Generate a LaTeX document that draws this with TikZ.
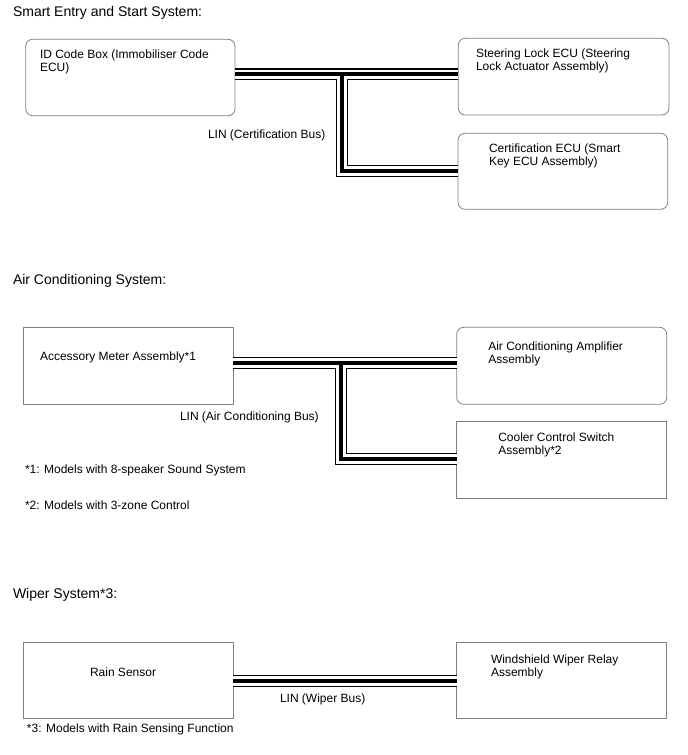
\documentclass[tikz,border=0pt]{standalone}
\usepackage{fontspec}
\setmainfont{Liberation Sans}
\begin{document}
\begin{tikzpicture}[x=1pt,y=-1pt,
  every node/.style={inner sep=0pt,outer sep=0pt},
  boxsq/.style={draw=black!50,line width=0.8pt,fill=white,anchor=north west},
  boxrd/.style={boxsq,rounded corners=7pt},
  lbl/.style={font=\fontsize{12}{13.3}\selectfont,align=left},
  ttl/.style={font=\fontsize{14}{16}\selectfont,anchor=west},
  busout/.style={line width=12pt,draw=black,line join=miter},
  busmid/.style={line width=9.6pt,draw=white,line join=miter},
  busin/.style={line width=4pt,draw=black,line join=miter}]
\useasboundingbox (0,0) rectangle (688,755);

% ---------- Smart Entry and Start System ----------
\node[ttl] (t1) at (13,13.3) {Smart Entry and Start System:};
\node[boxrd,minimum width=209.3pt,minimum height=76.4pt] (id) at (25.7,39.3) {};
\node[boxrd,minimum width=210.7pt,minimum height=76.7pt] (steer) at (458.3,38.3) {};
\node[boxrd,minimum width=209.7pt,minimum height=76pt] (cert) at (458,133.3) {};
\node[lbl,anchor=north west] (idt) at (40,49.5) {ID Code Box (Immobiliser Code\\ECU)};
\node[lbl,anchor=north west] (steert) at (476,49) {Steering Lock ECU (Steering\\Lock Actuator Assembly)};
\node[lbl,anchor=north west] (certt) at (489,144) {Certification ECU (Smart\\Key ECU Assembly)};
\node[lbl,anchor=west] (lin1) at (208,135.7) {LIN (Certification Bus)};
\coordinate (j1) at (342,74.3);
\foreach \s in {busout,busmid,busin}{
  \draw[\s] (id.east |- j1) -- (steer.west |- j1);
  \draw[\s] (j1) -- (j1 |- 0,170.7) -- (cert.west |- 0,170.7);
}

% ---------- Air Conditioning System ----------
\node[ttl] (t2) at (13,281) {Air Conditioning System:};
\node[boxsq,minimum width=210pt,minimum height=76.3pt] (acc) at (23,327.7) {};
\node[boxrd,minimum width=210pt,minimum height=77pt] (amp) at (456.7,327.3) {};
\node[boxsq,minimum width=210pt,minimum height=76.6pt] (cool) at (456.7,421.7) {};
\node[lbl,anchor=west] (acct) at (40,357.7) {Accessory Meter Assembly*1};
\node[lbl,anchor=north west] (ampt) at (488.3,341.4) {Air Conditioning Amplifier\\Assembly};
\node[lbl,anchor=north west] (coolt) at (498.3,432.4) {Cooler Control Switch\\Assembly*2};
\node[lbl,anchor=west] (lin2) at (180,417) {LIN (Air Conditioning Bus)};
\node[lbl,anchor=west] (n1) at (25,470) {*1: Models with 8-speaker Sound System};
\node[lbl,anchor=west] (n2) at (25,505) {*2: Models with 3-zone Control};
\coordinate (j2) at (341,363);
\foreach \s in {busout,busmid,busin}{
  \draw[\s] (acc.east |- j2) -- (amp.west |- j2);
  \draw[\s] (j2) -- (j2 |- 0,458.7) -- (cool.west |- 0,458.7);
}

% ---------- Wiper System ----------
\node[ttl] (t3) at (13,595) {Wiper System*3:};
\node[boxsq,minimum width=210pt,minimum height=76pt] (rain) at (23,642) {};
\node[boxsq,minimum width=210pt,minimum height=76pt] (wind) at (456.7,642) {};
\node[lbl,anchor=west] (raint) at (90,672.7) {Rain Sensor};
\node[lbl,anchor=north west] (windt) at (491,654.6) {Windshield Wiper Relay\\Assembly};
\node[lbl,anchor=west] (lin3) at (280,699) {LIN (Wiper Bus)};
\node[lbl,anchor=west] (n3) at (27,729) {*3: Models with Rain Sensing Function};
\coordinate (j3) at (345,680.7);
\foreach \s in {busout,busmid,busin}{
  \draw[\s] (rain.east |- j3) -- (wind.west |- j3);
}
\end{tikzpicture}
\end{document}
